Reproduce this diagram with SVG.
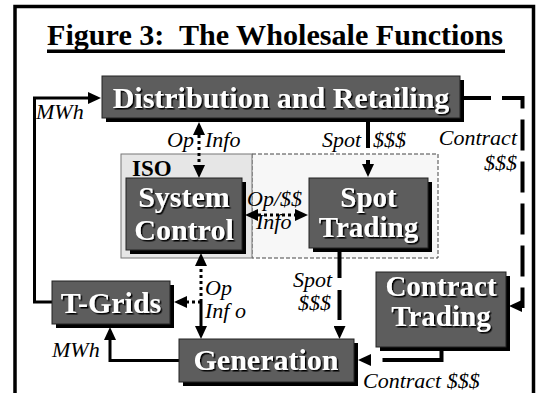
<svg xmlns="http://www.w3.org/2000/svg" width="536" height="393" viewBox="0 0 536 393" font-family="Liberation Serif, Times New Roman, serif">
<defs>
<style>
.box{fill:#5d5d5d;stroke:#222;stroke-width:1}
.sh{fill:#000}
.bt{font-weight:bold;font-size:30px;fill:#fff;text-anchor:middle;filter:url(#ts)}
.lb{font-style:italic;font-size:22px;fill:#000}
.solid{fill:none;stroke:#000;stroke-width:3}
.dot{fill:none;stroke:#000;stroke-width:3;stroke-dasharray:3,3}
.dash{fill:none;stroke:#000;stroke-width:4;stroke-dasharray:31,11}
</style>
<filter id="ts" x="-10%" y="-20%" width="120%" height="140%">
<feDropShadow dx="1.5" dy="1.5" stdDeviation="0.4" flood-color="#000" flood-opacity="1"/>
</filter>
<marker id="ah" viewBox="0 0 13 12" refX="0" refY="6" markerWidth="13" markerHeight="12" markerUnits="userSpaceOnUse" orient="auto-start-reverse">
<path d="M0,0 L13,6 L0,12 z" fill="#000" stroke="none"/>
</marker>
</defs>
<rect width="536" height="393" fill="#fff"/>
<rect x="15" y="6.5" width="518.5" height="420" fill="none" stroke="#000" stroke-width="3.5"/>
<g id="title">
<text x="47" y="45" font-family="Liberation Serif, Times New Roman, serif" font-weight="bold" font-size="30" textLength="456" lengthAdjust="spacingAndGlyphs" style="white-space:pre">Figure 3:  The Wholesale Functions</text>
<rect x="47" y="49.5" width="458" height="3.5" fill="#000"/>
</g>
<g id="iso">
<rect x="252" y="154" width="186" height="104" fill="#f7f7f7" stroke="#444" stroke-width="1" stroke-dasharray="4,2"/>
<rect x="121" y="154" width="131" height="104" fill="#e6e6e6" stroke="#777" stroke-width="1"/>
<text x="132" y="176" font-family="Liberation Serif, Times New Roman, serif" font-weight="bold" font-size="23" fill="#000">ISO</text>
</g>
<g id="connectors">
<path class="solid" d="M52,302 H34.5 V98 H88" marker-end="url(#ah)"/>
<path class="solid" d="M179,360.5 H110 V340" marker-end="url(#ah)"/>
<path class="dot" d="M199,135 V165" marker-start="url(#ah)" marker-end="url(#ah)"/>
<path class="dash" d="M368,118 V164" style="stroke-dasharray:30,12" marker-end="url(#ah)"/>
<path class="dot" d="M258,215 H295" marker-start="url(#ah)" marker-end="url(#ah)"/>
<path class="dot" d="M201,302 V266" marker-end="url(#ah)"/>
<path class="dot" d="M201,302 H187" marker-end="url(#ah)"/>
<path class="solid" d="M201,302 V326" marker-end="url(#ah)"/>
<path class="dash" d="M339.5,248 V326" style="stroke-dasharray:30,12" marker-end="url(#ah)"/>
<path class="dash" d="M441.5,347 V360 H371" style="stroke-dasharray:72,14" marker-end="url(#ah)"/>
<path class="dash" d="M460,98 H522.5 V306 H522" marker-end="url(#ah)"/>
</g>
<g id="labels" font-family="Liberation Serif, Times New Roman, serif" font-style="italic" font-size="22">
<text class="lb" x="36" y="119">MWh</text>
<text class="lb" x="167" y="147">Op</text>
<text class="lb" x="205" y="147">Info</text>
<text class="lb" x="322" y="147">Spot</text>
<text class="lb" x="373" y="147">$$$</text>
<text class="lb" x="517" y="145" text-anchor="end">Contract</text>
<text class="lb" x="517" y="170" text-anchor="end">$$$</text>
<text class="lb" x="247" y="206">Op/$$</text>
<text class="lb" x="256" y="229">Info</text>
<text class="lb" x="205" y="295">Op</text>
<text class="lb" x="205" y="318">Inf o</text>
<text class="lb" x="332" y="287" text-anchor="end">Spot</text>
<text class="lb" x="331" y="310" text-anchor="end">$$$</text>
<text class="lb" x="52" y="357">MWh</text>
<text class="lb" x="363" y="388">Contract $$$</text>
</g>
<g id="distribution" font-family="Liberation Serif, Times New Roman, serif" font-weight="bold">
<rect class="sh" x="106" y="80" width="358" height="42"/>
<rect class="box" x="102" y="76" width="358" height="42"/>
<text class="bt" x="281" y="108">Distribution and Retailing</text>
</g>
<g id="system-control" font-family="Liberation Serif, Times New Roman, serif" font-weight="bold">
<rect class="sh" x="130" y="182" width="116" height="72"/>
<rect class="box" x="126" y="178" width="116" height="72"/>
<text class="bt" x="184" y="207">System</text>
<text class="bt" x="184" y="240">Control</text>
</g>
<g id="spot-trading" font-family="Liberation Serif, Times New Roman, serif" font-weight="bold">
<rect class="sh" x="313" y="182" width="119" height="70"/>
<rect class="box" x="309" y="178" width="119" height="70"/>
<text class="bt" x="368.5" y="207" style="font-size:29px">Spot</text>
<text class="bt" x="368.5" y="237" style="font-size:29px">Trading</text>
</g>
<g id="t-grids" font-family="Liberation Serif, Times New Roman, serif" font-weight="bold">
<rect class="sh" x="56" y="285" width="118" height="43"/>
<rect class="box" x="52" y="281" width="118" height="43"/>
<text class="bt" x="111" y="313">T-Grids</text>
</g>
<g id="contract-trading" font-family="Liberation Serif, Times New Roman, serif" font-weight="bold">
<rect class="sh" x="380" y="276" width="130" height="75"/>
<rect class="box" x="376" y="272" width="130" height="75"/>
<text class="bt" x="441" y="296" style="font-size:29px">Contract</text>
<text class="bt" x="441" y="326" style="font-size:29px">Trading</text>
</g>
<g id="generation" font-family="Liberation Serif, Times New Roman, serif" font-weight="bold">
<rect class="sh" x="183" y="343" width="175" height="43"/>
<rect class="box" x="179" y="339" width="175" height="43"/>
<text class="bt" x="266" y="370">Generation</text>
</g>
</svg>
